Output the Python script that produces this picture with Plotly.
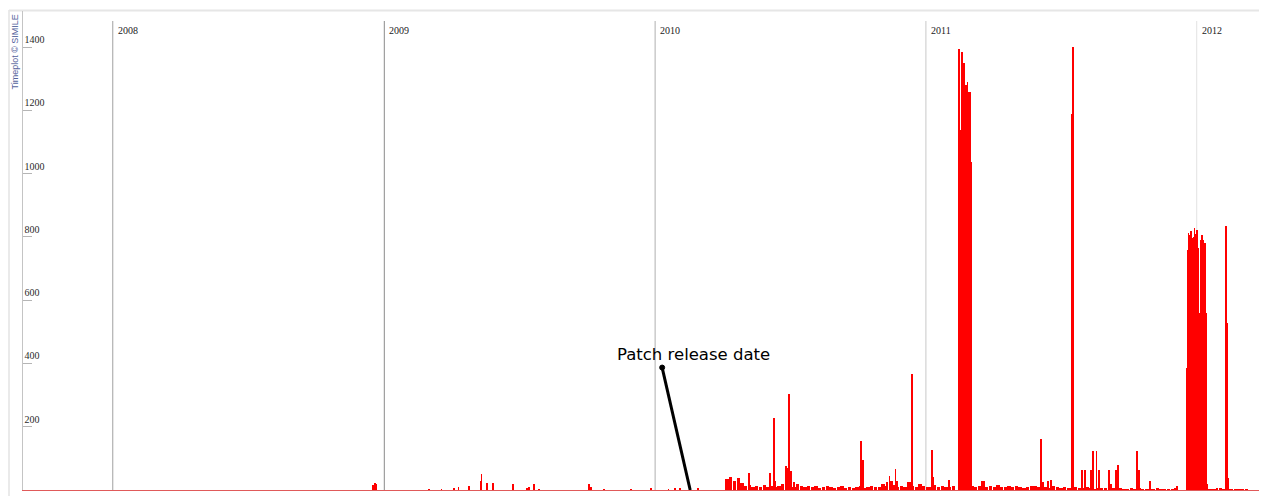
import pandas as pd
import plotly.graph_objects as go

# ---------------- data ----------------
years = ["2008", "2009", "2010", "2011", "2012"]
year_line_colors = ["#a0a0a0", "#8a8a8a", "#b0b0b0", "#c8c8c8", "#e2e2e2"]

y_tick_values = [200, 400, 600, 800, 1000, 1200, 1400]

# low daily background activity, sampled every 5 days from 2010-04-08
noise_start = "2010-04-08"
noise_step_days = 5
noise_values = [
    35, 40, 28, 38, 22,
    12, 15, 8, 14, 10, 16,
    10, 12, 9, 14, 20, 12,
    15, 10, 18, 12, 8, 14,
    10, 12, 7, 9, 13, 8,
    6, 10, 12, 7, 9, 5,
    8, 12, 6, 10, 14, 8,
    10, 20, 12, 28, 15, 10,
    12, 8, 25, 14, 10, 18,
    12, 8, 10, 15, 9, 12,
    10, 8, 12, 0, 0, 0,
    10, 14, 8, 12, 30, 10,
    12, 8, 15, 9, 10, 14,
    8, 12, 10, 6, 9, 12,
    14, 8, 20, 10, 7, 12,
    9, 6, 8, 5, 7, 10,
    6, 4, 8, 5, 3, 6,
    4, 5, 3, 6, 2, 4,
    3, 2, 4, 3, 5, 2,
    2, 3, 2, 4, 3, 2,
    3, 2, 4, 0, 0, 0,
    0, 0, 0, 6, 3, 2,
    3, 2, 4, 2, 3, 2,
    2, 3, 2, 2,
]

# individual days with notable counts
spike_dates = [
    "2008-12-17", "2008-12-20", "2008-12-21",
    "2009-03-02", "2009-03-19", "2009-04-05", "2009-04-11", "2009-04-25",
    "2009-05-11", "2009-05-12", "2009-05-19", "2009-05-27", "2009-06-23",
    "2009-07-12", "2009-07-15", "2009-07-22", "2009-07-29", "2009-10-04",
    "2009-10-07", "2009-10-24", "2009-11-30", "2009-12-27",
    "2010-01-19", "2010-01-28", "2010-02-04", "2010-02-17", "2010-02-28",
    "2010-05-07", "2010-06-05", "2010-06-10", "2010-06-12", "2010-06-27",
    "2010-06-28", "2010-06-30", "2010-07-01", "2010-07-03", "2010-07-07",
    "2010-10-06", "2010-10-08", "2010-11-09", "2010-11-13", "2010-11-16",
    "2010-11-21", "2010-11-23", "2010-12-13", "2010-12-14",
    "2011-01-09", "2011-01-10", "2011-02-01",
    "2011-06-05", "2011-06-08", "2011-06-14", "2011-06-19",
    "2011-07-17", "2011-07-18", "2011-07-19",
    "2011-07-30", "2011-08-04", "2011-08-11", "2011-08-14", "2011-08-19",
    "2011-08-22", "2011-09-05", "2011-09-07", "2011-09-14", "2011-09-17",
    "2011-10-12", "2011-10-13", "2011-10-15", "2011-10-30", "2011-12-05",
    "2012-01-28", "2012-02-01", "2012-02-10", "2012-02-11", "2012-02-12",
]
spike_values = [
    15, 22, 18,
    3, 3, 4, 8, 14,
    30, 52, 22, 22, 18,
    6, 8, 18, 3, 18,
    10, 3, 3, 5,
    3, 5, 4, 3, 6,
    54, 55, 228, 30, 75,
    70, 303, 168, 60, 25,
    156, 96, 25, 43, 30,
    67, 30, 367, 96,
    125, 40, 33,
    162, 25, 28, 33,
    1190, 1400, 430,
    62, 62, 62, 124, 124,
    62, 62, 20, 62, 78,
    124, 55, 62, 28, 14,
    5, 5, 833, 528, 38,
]

# sustained bursts (daily values)
burst1_start = "2011-02-15"
burst1_values = [1395, 1100, 1137, 1100, 1385, 1192, 1350, 1280, 1230,
                 1280, 1190, 1290, 1185, 1257, 1200, 1257, 1037]

burst2_start = "2011-12-19"
burst2_values = [386, 760, 812, 790, 805, 818, 770, 797, 780, 800, 828, 810,
                 765, 822, 790, 765, 560, 433, 600, 790, 807, 780, 791, 770,
                 780, 750, 560, 20]

# ---------------- figure ----------------
DAY_MS = 86400000
RED = "#ff0000"

noise_dates = pd.date_range(noise_start, periods=len(noise_values),
                            freq=f"{noise_step_days}D")
burst1_dates = pd.date_range(burst1_start, periods=len(burst1_values), freq="D")
burst2_dates = pd.date_range(burst2_start, periods=len(burst2_values), freq="D")

fig = go.Figure()
fig.add_trace(go.Bar(x=noise_dates, y=noise_values, width=DAY_MS * 4.5,
                     marker=dict(color=RED, line=dict(width=0))))
fig.add_trace(go.Bar(x=pd.to_datetime(spike_dates), y=spike_values,
                     width=DAY_MS * 1.2,
                     marker=dict(color=RED, line=dict(width=0))))
fig.add_trace(go.Bar(x=burst1_dates, y=burst1_values, width=DAY_MS * 1.05,
                     marker=dict(color=RED, line=dict(width=0))))
fig.add_trace(go.Bar(x=burst2_dates, y=burst2_values, width=DAY_MS * 1.05,
                     marker=dict(color=RED, line=dict(width=0))))

# page body has an 8px default margin: lay the figure out in screen pixels
BODY = 8
SCREEN_W, SCREEN_H = 1267, 496
PLOT_L, PLOT_R, PLOT_T, PLOT_B = 23, 1262, 11, 490
pw, ph = PLOT_R - PLOT_L, PLOT_B - PLOT_T
ML, MT = PLOT_L - BODY, PLOT_T - BODY
MR, MB = SCREEN_W - PLOT_R, SCREEN_H - PLOT_B
W, H = ML + pw + MR, MT + ph + MB


def px_x(x):
    return (x - PLOT_L) / pw


def px_y(y):
    return (PLOT_B - y) / ph


shapes = []
annotations = []

# outer frame (light gray)
shapes.append(dict(type="line", xref="paper", yref="paper",
                   x0=px_x(9), x1=px_x(9), y0=px_y(10), y1=px_y(SCREEN_H),
                   line=dict(color="#e3e3e3", width=1.5), layer="below"))
shapes.append(dict(type="line", xref="paper", yref="paper",
                   x0=px_x(9), x1=px_x(1264), y0=px_y(10.5), y1=px_y(10.5),
                   line=dict(color="#e6e6e6", width=2), layer="below"))
shapes.append(dict(type="line", xref="paper", yref="paper",
                   x0=px_x(1263), x1=px_x(1263), y0=px_y(10), y1=0,
                   line=dict(color="#dcdcdc", width=1.5), layer="below"))

# year lines and labels
for yr, col in zip(years, year_line_colors):
    shapes.append(dict(type="line", xref="x", yref="paper",
                       x0=f"{yr}-01-01", x1=f"{yr}-01-01",
                       y0=0, y1=px_y(21),
                       line=dict(color=col, width=1), layer="below"))
    annotations.append(dict(x=f"{yr}-01-01", y=px_y(30), xref="x", yref="paper",
                            text=yr, showarrow=False, xanchor="left",
                            yanchor="middle", xshift=3,
                            font=dict(family="Liberation Serif", size=10,
                                      color="#222222")))

# credit text
annotations.append(dict(x=px_x(15), y=px_y(13), xref="paper", yref="paper",
                        text="Timeplot © SIMILE", textangle=-90,
                        showarrow=False, xanchor="center", yanchor="top",
                        font=dict(family="Liberation Sans", size=9,
                                  color="#55639c")))

# patch release annotation
annotations.append(dict(x="2010-02-21 10:00", y=428, xref="x", yref="y",
                        text="Patch release date", showarrow=False,
                        xanchor="center", yanchor="middle",
                        font=dict(family="DejaVu Sans", size=16.5,
                                  color="#000000")))
shapes.append(dict(type="line", xref="x", yref="y",
                   x0="2010-01-10 12:00", y0=387, x1="2010-02-17 07:00", y1=0,
                   line=dict(color="#000000", width=3)))
shapes.append(dict(type="circle", xref="x", yref="y",
                   xsizemode="pixel", ysizemode="pixel",
                   xanchor="2010-01-10 12:00", yanchor=387,
                   x0=-2.5, x1=2.5, y0=-2.5, y1=2.5,
                   fillcolor="#000000", line=dict(color="#000000", width=1)))

fig.update_layout(
    width=W, height=H,
    margin=dict(l=ML, r=MR, t=MT, b=MB, pad=0),
    paper_bgcolor="white", plot_bgcolor="white",
    showlegend=False, barmode="overlay", bargap=0,
    shapes=shapes, annotations=annotations,
    xaxis=dict(type="date", range=["2007-09-02", "2012-03-29"],
               showticklabels=False, ticks="", showgrid=False,
               zeroline=False, showline=True, linecolor="#e05a5a",
               linewidth=1),
    yaxis=dict(range=[0, 1514], tickvals=y_tick_values,
               ticktext=[str(v) for v in y_tick_values],
               ticks="inside", ticklen=9, tickcolor="#b5b5b5", tickwidth=1,
               ticklabelposition="inside top",
               tickfont=dict(family="Liberation Serif", size=10,
                             color="#2a2a2a"),
               showgrid=False, zeroline=False, showline=True,
               linecolor="#c4c4c4", linewidth=1),
)

fig.write_html("out.html")
